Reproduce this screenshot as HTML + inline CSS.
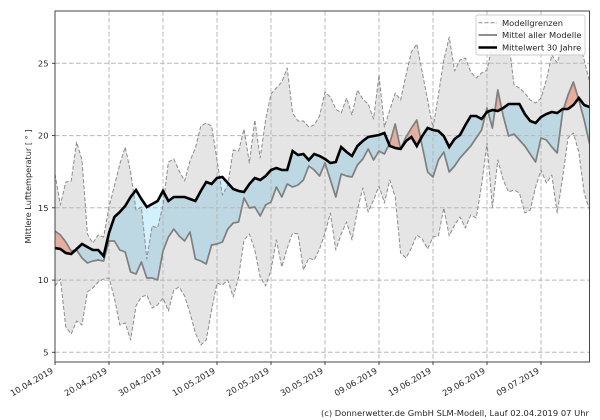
<!DOCTYPE html>
<html><head><meta charset="utf-8"><style>
html,body{margin:0;padding:0;background:#fff;}
svg{display:block;font-family:"DejaVu Sans","Liberation Sans",sans-serif;}
</style></head><body>
<svg width="600" height="420" viewBox="0 0 600 420" xmlns="http://www.w3.org/2000/svg">
<defs>
<clipPath id="plot"><rect x="55" y="11" width="534.5" height="351"/></clipPath>
<clipPath id="belowC"><polygon points="55,248 60.4,249 65.8,253 71.2,254 76.6,249 82,244 87.4,247 92.8,250 98.2,250 103.6,256 109,233 114.4,217 119.8,212 125.2,206 130.6,197 136,190 141.4,199 146.8,207 152.2,204 157.6,201 163,191 168.4,201 173.8,197 179.2,197 184.6,197 190,199 195.4,201 200.8,191 206.2,182 211.6,184 217,178 222.4,177 227.8,183 233.2,189 238.6,191 244,192 249.4,184 254.8,178 260.2,180 265.6,176 271,170 276.4,168 281.8,170 287.2,170 292.6,151 298,155 303.4,154 308.8,160 314.2,154 319.6,156 325,159 330.4,163 335.8,162 341.2,147 346.6,152 352,156 357.4,146 362.8,141 368.2,137 373.6,136 379,135 384.4,133 389.8,146 395.2,148 400.6,149 406,141 411.4,137 416.8,146 422.2,136 427.6,128 433,130 438.4,131 443.8,136 449.2,147 454.6,139 460,135 465.4,125 470.8,116 476.2,116 481.6,119 487,112 492.4,110 497.8,111 503.2,108 508.6,104 514,104 519.4,104 524.8,114 530.2,121 535.6,123 541,117 546.4,114 551.8,112 557.2,113 562.6,109 568,109 573.4,105 578.8,98 584.2,105 589.6,107 589.6,420 55,420"/></clipPath>
<clipPath id="aboveC"><polygon points="55,248 60.4,249 65.8,253 71.2,254 76.6,249 82,244 87.4,247 92.8,250 98.2,250 103.6,256 109,233 114.4,217 119.8,212 125.2,206 130.6,197 136,190 141.4,199 146.8,207 152.2,204 157.6,201 163,191 168.4,201 173.8,197 179.2,197 184.6,197 190,199 195.4,201 200.8,191 206.2,182 211.6,184 217,178 222.4,177 227.8,183 233.2,189 238.6,191 244,192 249.4,184 254.8,178 260.2,180 265.6,176 271,170 276.4,168 281.8,170 287.2,170 292.6,151 298,155 303.4,154 308.8,160 314.2,154 319.6,156 325,159 330.4,163 335.8,162 341.2,147 346.6,152 352,156 357.4,146 362.8,141 368.2,137 373.6,136 379,135 384.4,133 389.8,146 395.2,148 400.6,149 406,141 411.4,137 416.8,146 422.2,136 427.6,128 433,130 438.4,131 443.8,136 449.2,147 454.6,139 460,135 465.4,125 470.8,116 476.2,116 481.6,119 487,112 492.4,110 497.8,111 503.2,108 508.6,104 514,104 519.4,104 524.8,114 530.2,121 535.6,123 541,117 546.4,114 551.8,112 557.2,113 562.6,109 568,109 573.4,105 578.8,98 584.2,105 589.6,107 589.6,0 55,0"/></clipPath>
</defs>
<rect x="0" y="0" width="600" height="420" fill="#fff"/>
<g clip-path="url(#plot)">
<!-- fill between mean and climate (C forward, M reversed) -->
<g clip-path="url(#belowC)">
<polygon fill="#d3f1fd" points="55,248 60.4,249 65.8,253 71.2,254 76.6,249 82,244 87.4,247 92.8,250 98.2,250 103.6,256 109,233 114.4,217 119.8,212 125.2,206 130.6,197 136,190 141.4,199 146.8,207 152.2,204 157.6,201 163,191 168.4,201 173.8,197 179.2,197 184.6,197 190,199 195.4,201 200.8,191 206.2,182 211.6,184 217,178 222.4,177 227.8,183 233.2,189 238.6,191 244,192 249.4,184 254.8,178 260.2,180 265.6,176 271,170 276.4,168 281.8,170 287.2,170 292.6,151 298,155 303.4,154 308.8,160 314.2,154 319.6,156 325,159 330.4,163 335.8,162 341.2,147 346.6,152 352,156 357.4,146 362.8,141 368.2,137 373.6,136 379,135 384.4,133 389.8,146 395.2,148 400.6,149 406,141 411.4,137 416.8,146 422.2,136 427.6,128 433,130 438.4,131 443.8,136 449.2,147 454.6,139 460,135 465.4,125 470.8,116 476.2,116 481.6,119 487,112 492.4,110 497.8,111 503.2,108 508.6,104 514,104 519.4,104 524.8,114 530.2,121 535.6,123 541,117 546.4,114 551.8,112 557.2,113 562.6,109 568,109 573.4,105 578.8,98 584.2,105 589.6,107 589.6,144 584.2,120 578.8,100 573.4,82 568,95 562.6,112 557.2,153 551.8,147 546.4,140 541,138 535.6,162 530.2,154 524.8,146 519.4,140 514,134 508.6,136 503.2,116 497.8,90 492.4,128 487,108 481.6,130 476.2,138 470.8,146 465.4,152 460,158 454.6,166 449.2,172 443.8,152 438.4,160 433,177 427.6,172 422.2,146 416.8,120 411.4,128 406,137 400.6,149 395.2,124 389.8,143 384.4,154 379,151 373.6,160 368.2,149 362.8,159 357.4,165 352,177 346.6,176 341.2,174 335.8,197 330.4,180 325,163 319.6,176 314.2,170 308.8,166 303.4,180 298,185 292.6,187 287.2,184 281.8,197 276.4,187 271,202 265.6,205 260.2,216 254.8,207 249.4,208 244,198 238.6,222 233.2,223 227.8,229 222.4,242 217,244 211.6,245 206.2,264 200.8,261 195.4,259 190,232 184.6,241 179.2,236 173.8,229 168.4,237 163,251 157.6,280 152.2,278 146.8,278 141.4,262 136,274 130.6,272 125.2,252 119.8,250 114.4,241 109,241 103.6,261 98.2,260 92.8,261 87.4,263 82,258 76.6,250 71.2,251 65.8,242 60.4,235 55,231"/>
</g>
<g clip-path="url(#aboveC)">
<polygon fill="#ffc2b2" points="55,248 60.4,249 65.8,253 71.2,254 76.6,249 82,244 87.4,247 92.8,250 98.2,250 103.6,256 109,233 114.4,217 119.8,212 125.2,206 130.6,197 136,190 141.4,199 146.8,207 152.2,204 157.6,201 163,191 168.4,201 173.8,197 179.2,197 184.6,197 190,199 195.4,201 200.8,191 206.2,182 211.6,184 217,178 222.4,177 227.8,183 233.2,189 238.6,191 244,192 249.4,184 254.8,178 260.2,180 265.6,176 271,170 276.4,168 281.8,170 287.2,170 292.6,151 298,155 303.4,154 308.8,160 314.2,154 319.6,156 325,159 330.4,163 335.8,162 341.2,147 346.6,152 352,156 357.4,146 362.8,141 368.2,137 373.6,136 379,135 384.4,133 389.8,146 395.2,148 400.6,149 406,141 411.4,137 416.8,146 422.2,136 427.6,128 433,130 438.4,131 443.8,136 449.2,147 454.6,139 460,135 465.4,125 470.8,116 476.2,116 481.6,119 487,112 492.4,110 497.8,111 503.2,108 508.6,104 514,104 519.4,104 524.8,114 530.2,121 535.6,123 541,117 546.4,114 551.8,112 557.2,113 562.6,109 568,109 573.4,105 578.8,98 584.2,105 589.6,107 589.6,144 584.2,120 578.8,100 573.4,82 568,95 562.6,112 557.2,153 551.8,147 546.4,140 541,138 535.6,162 530.2,154 524.8,146 519.4,140 514,134 508.6,136 503.2,116 497.8,90 492.4,128 487,108 481.6,130 476.2,138 470.8,146 465.4,152 460,158 454.6,166 449.2,172 443.8,152 438.4,160 433,177 427.6,172 422.2,146 416.8,120 411.4,128 406,137 400.6,149 395.2,124 389.8,143 384.4,154 379,151 373.6,160 368.2,149 362.8,159 357.4,165 352,177 346.6,176 341.2,174 335.8,197 330.4,180 325,163 319.6,176 314.2,170 308.8,166 303.4,180 298,185 292.6,187 287.2,184 281.8,197 276.4,187 271,202 265.6,205 260.2,216 254.8,207 249.4,208 244,198 238.6,222 233.2,223 227.8,229 222.4,242 217,244 211.6,245 206.2,264 200.8,261 195.4,259 190,232 184.6,241 179.2,236 173.8,229 168.4,237 163,251 157.6,280 152.2,278 146.8,278 141.4,262 136,274 130.6,272 125.2,252 119.8,250 114.4,241 109,241 103.6,261 98.2,260 92.8,261 87.4,263 82,258 76.6,250 71.2,251 65.8,242 60.4,235 55,231"/>
</g>
<!-- model range band (U forward, L reversed) -->
<polygon fill="#000" fill-opacity="0.1" points="55,174 60.4,205 65.8,182 71.2,181 76.6,142 82,160 87.4,234 92.8,243 98.2,235 103.6,237 109,207 114.4,186 119.8,164 125.2,147 130.6,172 136,210 141.4,207 146.8,259 152.2,226 157.6,228 163,205 168.4,162 173.8,159 179.2,171 184.6,181 190,161 195.4,148 200.8,126 206.2,123 211.6,126 217,160 222.4,195 227.8,185 233.2,150 238.6,151 244,129 249.4,163 254.8,120 260.2,158 265.6,120 271,94 276.4,88 281.8,82 287.2,68 292.6,113 298,121 303.4,121 308.8,127 314.2,125 319.6,116 325,92 330.4,97 335.8,109 341.2,113 346.6,98 352,115 357.4,90 362.8,99 368.2,104 373.6,119 379,75 384.4,127 389.8,110 395.2,93 400.6,100 406,75 411.4,52 416.8,44 422.2,72 427.6,100 433,128 438.4,95 443.8,60 449.2,37 454.6,71 460,60 465.4,58 470.8,72 476.2,78 481.6,73 487,70 492.4,45 497.8,30 503.2,22 508.6,40 514,85 519.4,88 524.8,93 530.2,100 535.6,103 541,98 546.4,80 551.8,55 557.2,63 562.6,45 568,40 573.4,50 578.8,40 584.2,60 589.6,82 589.6,210 584.2,193 578.8,152 573.4,133 568,138 562.6,178 557.2,213 551.8,175 546.4,183 541,170 535.6,187 530.2,210 524.8,213 519.4,193 514,190 508.6,192 503.2,180 497.8,160 492.4,208 487,143 481.6,185 476.2,218 470.8,215 465.4,228 460,217 454.6,225 449.2,236 443.8,208 438.4,236 433,237 427.6,249 422.2,239 416.8,235 411.4,248 406,258 400.6,253 395.2,197 389.8,180 384.4,203 379,186 373.6,200 368.2,212 362.8,188 357.4,210 352,240 346.6,222 341.2,234 335.8,250 330.4,213 325,233 319.6,249 314.2,260 308.8,258 303.4,270 298,234 292.6,233 287.2,248 281.8,267 276.4,240 271,270 265.6,286 260.2,277 254.8,250 249.4,234 244,240 238.6,277 233.2,297 227.8,280 222.4,285 217,283 211.6,310 206.2,340 200.8,345 195.4,333 190,313 184.6,296 179.2,287 173.8,290 168.4,311 163,298 157.6,305 152.2,308 146.8,295 141.4,297 136,306 130.6,340 125.2,323 119.8,325 114.4,298 109,278 103.6,279 98.2,282 92.8,288 87.4,292 82,325 76.6,321 71.2,334 65.8,327 60.4,279 55,286"/>
<!-- grid -->
<g stroke="#b8b8b8" stroke-width="1" stroke-dasharray="4.6,2.4" fill="none">
<line x1="55" y1="352.3" x2="590" y2="352.3"/>
<line x1="55" y1="280.1" x2="590" y2="280.1"/>
<line x1="55" y1="207.8" x2="590" y2="207.8"/>
<line x1="55" y1="135.6" x2="590" y2="135.6"/>
<line x1="55" y1="63.3" x2="590" y2="63.3"/>
<line x1="109" y1="11" x2="109" y2="362"/>
<line x1="163" y1="11" x2="163" y2="362"/>
<line x1="217" y1="11" x2="217" y2="362"/>
<line x1="271" y1="11" x2="271" y2="362"/>
<line x1="325" y1="11" x2="325" y2="362"/>
<line x1="379" y1="11" x2="379" y2="362"/>
<line x1="433" y1="11" x2="433" y2="362"/>
<line x1="487" y1="11" x2="487" y2="362"/>
<line x1="541" y1="11" x2="541" y2="362"/>
</g>
<!-- bounds -->
<g stroke="#8c8c8c" stroke-width="1" stroke-dasharray="4,2" fill="none" stroke-linejoin="round">
<polyline points="55,174 60.4,205 65.8,182 71.2,181 76.6,142 82,160 87.4,234 92.8,243 98.2,235 103.6,237 109,207 114.4,186 119.8,164 125.2,147 130.6,172 136,210 141.4,207 146.8,259 152.2,226 157.6,228 163,205 168.4,162 173.8,159 179.2,171 184.6,181 190,161 195.4,148 200.8,126 206.2,123 211.6,126 217,160 222.4,195 227.8,185 233.2,150 238.6,151 244,129 249.4,163 254.8,120 260.2,158 265.6,120 271,94 276.4,88 281.8,82 287.2,68 292.6,113 298,121 303.4,121 308.8,127 314.2,125 319.6,116 325,92 330.4,97 335.8,109 341.2,113 346.6,98 352,115 357.4,90 362.8,99 368.2,104 373.6,119 379,75 384.4,127 389.8,110 395.2,93 400.6,100 406,75 411.4,52 416.8,44 422.2,72 427.6,100 433,128 438.4,95 443.8,60 449.2,37 454.6,71 460,60 465.4,58 470.8,72 476.2,78 481.6,73 487,70 492.4,45 497.8,30 503.2,22 508.6,40 514,85 519.4,88 524.8,93 530.2,100 535.6,103 541,98 546.4,80 551.8,55 557.2,63 562.6,45 568,40 573.4,50 578.8,40 584.2,60 589.6,82"/>
<polyline points="55,286 60.4,279 65.8,327 71.2,334 76.6,321 82,325 87.4,292 92.8,288 98.2,282 103.6,279 109,278 114.4,298 119.8,325 125.2,323 130.6,340 136,306 141.4,297 146.8,295 152.2,308 157.6,305 163,298 168.4,311 173.8,290 179.2,287 184.6,296 190,313 195.4,333 200.8,345 206.2,340 211.6,310 217,283 222.4,285 227.8,280 233.2,297 238.6,277 244,240 249.4,234 254.8,250 260.2,277 265.6,286 271,270 276.4,240 281.8,267 287.2,248 292.6,233 298,234 303.4,270 308.8,258 314.2,260 319.6,249 325,233 330.4,213 335.8,250 341.2,234 346.6,222 352,240 357.4,210 362.8,188 368.2,212 373.6,200 379,186 384.4,203 389.8,180 395.2,197 400.6,253 406,258 411.4,248 416.8,235 422.2,239 427.6,249 433,237 438.4,236 443.8,208 449.2,236 454.6,225 460,217 465.4,228 470.8,215 476.2,218 481.6,185 487,143 492.4,208 497.8,160 503.2,180 508.6,192 514,190 519.4,193 524.8,213 530.2,210 535.6,187 541,170 546.4,183 551.8,175 557.2,213 562.6,178 568,138 573.4,133 578.8,152 584.2,193 589.6,210"/>
</g>
<!-- model mean -->
<polyline fill="none" stroke="#7f7f7f" stroke-width="1.7" stroke-linejoin="round" points="55,231 60.4,235 65.8,242 71.2,251 76.6,250 82,258 87.4,263 92.8,261 98.2,260 103.6,261 109,241 114.4,241 119.8,250 125.2,252 130.6,272 136,274 141.4,262 146.8,278 152.2,278 157.6,280 163,251 168.4,237 173.8,229 179.2,236 184.6,241 190,232 195.4,259 200.8,261 206.2,264 211.6,245 217,244 222.4,242 227.8,229 233.2,223 238.6,222 244,198 249.4,208 254.8,207 260.2,216 265.6,205 271,202 276.4,187 281.8,197 287.2,184 292.6,187 298,185 303.4,180 308.8,166 314.2,170 319.6,176 325,163 330.4,180 335.8,197 341.2,174 346.6,176 352,177 357.4,165 362.8,159 368.2,149 373.6,160 379,151 384.4,154 389.8,143 395.2,124 400.6,149 406,137 411.4,128 416.8,120 422.2,146 427.6,172 433,177 438.4,160 443.8,152 449.2,172 454.6,166 460,158 465.4,152 470.8,146 476.2,138 481.6,130 487,108 492.4,128 497.8,90 503.2,116 508.6,136 514,134 519.4,140 524.8,146 530.2,154 535.6,162 541,138 546.4,140 551.8,147 557.2,153 562.6,112 568,95 573.4,82 578.8,100 584.2,120 589.6,144"/>
<!-- 30 year mean -->
<polyline fill="none" stroke="#000" stroke-width="2.6" stroke-linejoin="miter" points="55,248 60.4,249 65.8,253 71.2,254 76.6,249 82,244 87.4,247 92.8,250 98.2,250 103.6,256 109,233 114.4,217 119.8,212 125.2,206 130.6,197 136,190 141.4,199 146.8,207 152.2,204 157.6,201 163,191 168.4,201 173.8,197 179.2,197 184.6,197 190,199 195.4,201 200.8,191 206.2,182 211.6,184 217,178 222.4,177 227.8,183 233.2,189 238.6,191 244,192 249.4,184 254.8,178 260.2,180 265.6,176 271,170 276.4,168 281.8,170 287.2,170 292.6,151 298,155 303.4,154 308.8,160 314.2,154 319.6,156 325,159 330.4,163 335.8,162 341.2,147 346.6,152 352,156 357.4,146 362.8,141 368.2,137 373.6,136 379,135 384.4,133 389.8,146 395.2,148 400.6,149 406,141 411.4,137 416.8,146 422.2,136 427.6,128 433,130 438.4,131 443.8,136 449.2,147 454.6,139 460,135 465.4,125 470.8,116 476.2,116 481.6,119 487,112 492.4,110 497.8,111 503.2,108 508.6,104 514,104 519.4,104 524.8,114 530.2,121 535.6,123 541,117 546.4,114 551.8,112 557.2,113 562.6,109 568,109 573.4,105 578.8,98 584.2,105 589.6,107"/>
</g>
<!-- spines -->
<rect x="55" y="11" width="534.5" height="351" fill="none" stroke="#333" stroke-width="0.9"/>
<!-- ticks -->
<g stroke="#333" stroke-width="0.9">
<line x1="52" y1="352.3" x2="55" y2="352.3"/>
<line x1="52" y1="280.1" x2="55" y2="280.1"/>
<line x1="52" y1="207.8" x2="55" y2="207.8"/>
<line x1="52" y1="135.6" x2="55" y2="135.6"/>
<line x1="52" y1="63.3" x2="55" y2="63.3"/>
<line x1="55" y1="362" x2="55" y2="365"/>
<line x1="109" y1="362" x2="109" y2="365"/>
<line x1="163" y1="362" x2="163" y2="365"/>
<line x1="217" y1="362" x2="217" y2="365"/>
<line x1="271" y1="362" x2="271" y2="365"/>
<line x1="325" y1="362" x2="325" y2="365"/>
<line x1="379" y1="362" x2="379" y2="365"/>
<line x1="433" y1="362" x2="433" y2="365"/>
<line x1="487" y1="362" x2="487" y2="365"/>
<line x1="541" y1="362" x2="541" y2="365"/>
</g>
<g font-size="8.33" fill="#262626">
<text x="48.5" y="355.3" text-anchor="end">5</text>
<text x="48.5" y="283.1" text-anchor="end">10</text>
<text x="48.5" y="210.8" text-anchor="end">15</text>
<text x="48.5" y="138.6" text-anchor="end">20</text>
<text x="48.5" y="66.3" text-anchor="end">25</text>
<text text-anchor="end" transform="translate(53.8,372.5) rotate(-30)">10.04.2019</text>
<text text-anchor="end" transform="translate(107.8,372.5) rotate(-30)">20.04.2019</text>
<text text-anchor="end" transform="translate(161.8,372.5) rotate(-30)">30.04.2019</text>
<text text-anchor="end" transform="translate(215.8,372.5) rotate(-30)">10.05.2019</text>
<text text-anchor="end" transform="translate(269.8,372.5) rotate(-30)">20.05.2019</text>
<text text-anchor="end" transform="translate(323.8,372.5) rotate(-30)">30.05.2019</text>
<text text-anchor="end" transform="translate(377.8,372.5) rotate(-30)">09.06.2019</text>
<text text-anchor="end" transform="translate(431.8,372.5) rotate(-30)">19.06.2019</text>
<text text-anchor="end" transform="translate(485.8,372.5) rotate(-30)">29.06.2019</text>
<text text-anchor="end" transform="translate(539.8,372.5) rotate(-30)">09.07.2019</text>
<text text-anchor="middle" transform="translate(31,186.5) rotate(-90)" textLength="114" lengthAdjust="spacingAndGlyphs">Mittlere Lufttemperatur [ ° ]</text>
<text x="321" y="416" textLength="268" lengthAdjust="spacingAndGlyphs">(c) Donnerwetter.de GmbH SLM-Modell, Lauf 02.04.2019 07 Uhr</text>
</g>
<!-- legend -->
<rect x="476" y="15" width="109" height="40" rx="2" ry="2" fill="#fff" fill-opacity="0.85" stroke="#cccccc" stroke-width="0.9"/>
<line x1="478.5" y1="22.8" x2="497" y2="22.8" stroke="#8c8c8c" stroke-width="1" stroke-dasharray="4,2"/>
<line x1="478.5" y1="35" x2="497" y2="35" stroke="#7f7f7f" stroke-width="1.7"/>
<line x1="478.5" y1="47.5" x2="497" y2="47.5" stroke="#000" stroke-width="2.6"/>
<g font-size="8.33" fill="#262626">
<text x="502" y="25.8">Modellgrenzen</text>
<text x="502" y="38">Mittel aller Modelle</text>
<text x="502" y="50.5">Mittelwert 30 Jahre</text>
</g>
</svg>
</body></html>
